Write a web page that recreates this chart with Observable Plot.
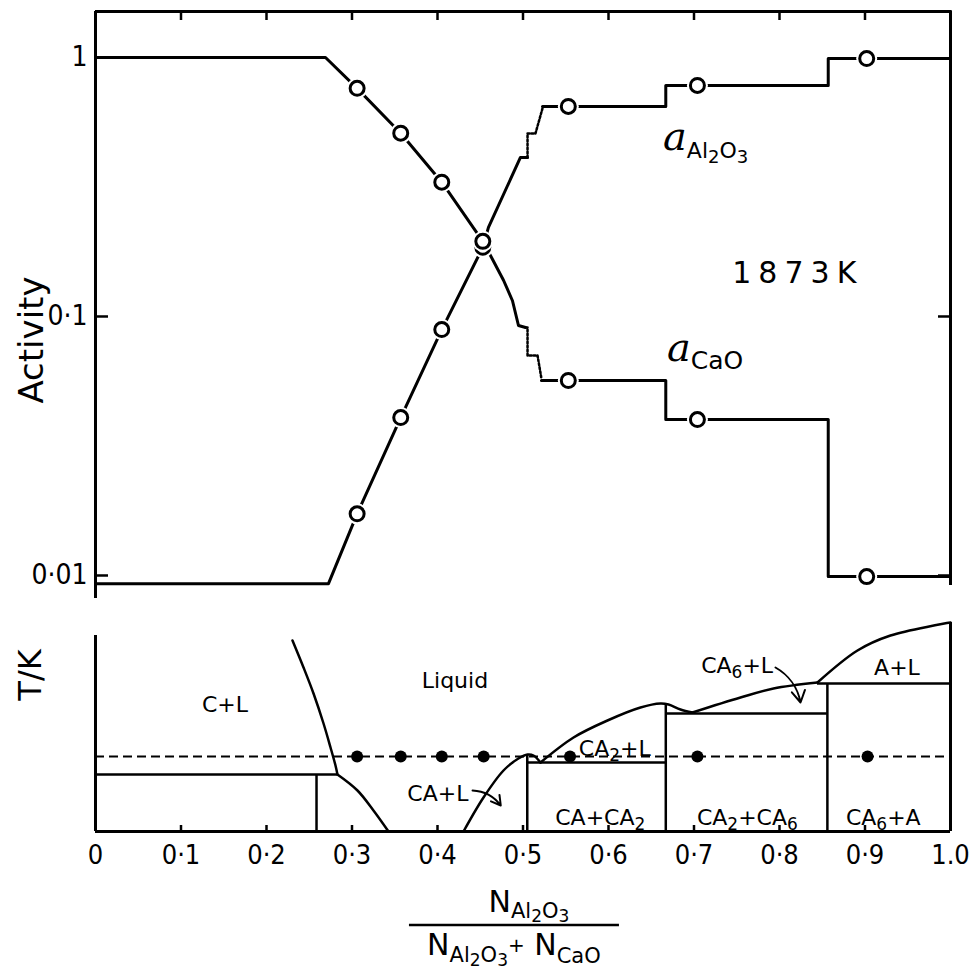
<!DOCTYPE html>
<html><head><meta charset="utf-8">
<script src="https://cdn.jsdelivr.net/npm/d3@7"></script>
<script src="https://cdn.jsdelivr.net/npm/@observablehq/plot@0.6"></script>
<style>
body{margin:0;background:#fff;}
#wrap{position:relative;width:973px;height:975px;background:#fff;}
#wrap svg{position:absolute;left:0;}
</style></head><body><div id="wrap"></div>
<script>
// ---------- DATA ----------
const xTicks = [0, 0.1, 0.2, 0.3, 0.4, 0.5, 0.6, 0.7, 0.8, 0.9, 1.0];
const xTickLabels = ["0", "0·1", "0·2", "0·3", "0·4", "0·5", "0·6", "0·7", "0·8", "0·9", "1.0"];
const innerXTicks = [0.1, 0.2, 0.3, 0.4, 0.5, 0.6, 0.7, 0.8, 0.9];
const yTicks = [0.01, 0.1, 1];
const yTickLabels = ["0·01", "0·1", "1"];

// a_CaO (solid parts, dotted transition)
const caoAx = [0, 0.269, 0.306, 0.357, 0.405, 0.453, 0.4632, 0.4772, 0.4877, 0.4947, 0.503];
const caoAy = [1, 1, 0.76, 0.51, 0.33, 0.195, 0.169, 0.138, 0.115, 0.0923, 0.0907];
const caoDx = [0.503, 0.5053, 0.5053, 0.517, 0.5216];
const caoDy = [0.0907, 0.0907, 0.0707, 0.0707, 0.0575];
const caoBx = [0.5216, 0.667, 0.667, 0.857, 0.857, 1.0];
const caoBy = [0.0566, 0.0566, 0.040, 0.040, 0.0099, 0.0099];
const caoPtX = [0.306, 0.357, 0.405, 0.453, 0.553, 0.704, 0.902];
const caoPtY = [0.76, 0.51, 0.33, 0.195, 0.0566, 0.040, 0.0099];

// a_Al2O3
const alAx = [0, 0.2725, 0.306, 0.357, 0.405, 0.453, 0.4596, 0.497, 0.5053];
const alAy = [0.0093, 0.0093, 0.0173, 0.0407, 0.089, 0.185, 0.221, 0.411, 0.411];
const alDx = [0.5053, 0.5053, 0.5146, 0.5228];
const alDy = [0.411, 0.509, 0.509, 0.636];
const alBx = [0.5228, 0.667, 0.667, 0.857, 0.857, 1.0];
const alBy = [0.647, 0.647, 0.780, 0.780, 0.99, 0.99];
const alPtX = [0.306, 0.357, 0.405, 0.453, 0.553, 0.704, 0.902];
const alPtY = [0.0173, 0.0407, 0.089, 0.185, 0.647, 0.780, 0.99];

// phase diagram (T in K, schematic)
const cLiqX = [0.2304, 0.2433, 0.2550, 0.2667, 0.2749, 0.2807, 0.2830];
const cLiqT = [2337, 2229, 2125, 2005, 1909, 1837, 1801];
const c3aLiqX = [0.2830, 0.3064, 0.3251, 0.3427];
const c3aLiqT = [1801, 1737, 1657, 1573];
const caLiqX = [0.4304, 0.4538, 0.4772, 0.4947, 0.5053, 0.5123, 0.5205];
const caLiqT = [1573, 1709, 1817, 1865, 1881, 1877, 1849];
const ca2LiqX = [0.5205, 0.5591, 0.5988, 0.6374, 0.6608, 0.6702, 0.6842, 0.6982];
const ca2LiqT = [1849, 1949, 2017, 2069, 2085, 2081, 2061, 2049];
const ca6LiqX = [0.6982, 0.7544, 0.7930, 0.8444];
const ca6LiqT = [2049, 2109, 2145, 2169];
const aLiqX = [0.8444, 0.8912, 0.9298, 1.0];
const aLiqT = [2169, 2297, 2357, 2409];

const hLineT = [1801, 1849, 2045, 2165];
const hLineX1 = [0, 0.505, 0.667, 0.8444];
const hLineX2 = [0.283, 0.667, 0.856, 1.0];
const vLineX = [0.2585, 0.505, 0.667, 0.856];
const vLineT2 = [1801, 1881, 2085, 2165];
const T0 = 1573;
const isoT = 1873;
const isoDotX = [0.306, 0.357, 0.405, 0.454, 0.555, 0.704, 0.903];

const phaseLabels = ["C+L", "Liquid", "CA+L", "CA+CA2", "CA2+CA6", "CA6+A", "CA2+L", "CA6+L", "A+L"];
const phaseLabelX = [0.152, 0.421, 0.401, 0.591, 0.763, 0.922, 0.608, 0.751, 0.938];
const phaseLabelT = [2081, 2177, 1725, 1629, 1629, 1629, 1905, 2237, 2229];

const arrowX1 = [0.441, 0.7953];
const arrowT1 = [1737, 2229];
const arrowX2 = [0.474, 0.8246];
const arrowT2 = [1677, 2089];

// ---------- helpers ----------
const rows = (xs, ys) => xs.map((x, i) => ({x, y: ys[i]}));
const FONT = "'DejaVu Sans', 'Noto Sans', sans-serif";
const NUMFONT = "'DejaVu Sans Condensed', 'Liberation Sans Narrow', 'DejaVu Sans', sans-serif";
const W = 973;
const wrap = document.getElementById("wrap");

function rich(g, x, y, anchor, parts, extra = {}) {
  const t = g.append("text").attr("x", x).attr("y", y).attr("text-anchor", anchor)
    .attr("fill", "black").attr("font-family", FONT);
  if (extra.transform) t.attr("transform", extra.transform);
  if (extra.ls) t.attr("letter-spacing", extra.ls);
  let prev = 0;
  parts.forEach(p => {
    const s = t.append("tspan").text(p.t).attr("font-size", p.size).attr("dy", (p.off || 0) - prev);
    if (p.family) s.attr("font-family", p.family);
    if (p.style) s.attr("font-style", p.style);
    prev = p.off || 0;
  });
  return t;
}

// ---------- TOP PLOT ----------
const yLo = 0.00815, yHi = 1.505, yRightLo = 0.00915;
const topPlot = Plot.plot({
  width: W, height: 600,
  marginLeft: 95, marginRight: 23, marginTop: 11, marginBottom: 2,
  x: {domain: [0, 1], axis: null},
  y: {type: "log", domain: [yLo, yHi], axis: null},
  style: {fontFamily: FONT, background: "white", color: "black"},
  marks: [
    Plot.ruleX([0], {y1: yLo, y2: yHi, strokeWidth: 3}),
    Plot.ruleX([1], {y1: yRightLo, y2: yHi, strokeWidth: 3}),
    Plot.ruleY([yHi], {x1: 0, x2: 1.002, strokeWidth: 3}),
    Plot.axisX({anchor: "top", ticks: innerXTicks, tickSize: 8, dy: 8, tickFormat: () => "", label: null, strokeWidth: 2.5}),
    Plot.axisY({anchor: "left", ticks: [0.01, 0.1], tickSize: 13, dx: 13, tickFormat: () => "", label: null, strokeWidth: 2.5}),
    Plot.axisY({anchor: "right", ticks: [0.01, 0.1], tickSize: 13, dx: -13, tickFormat: () => "", label: null, strokeWidth: 2.5}),
    Plot.axisY({anchor: "left", ticks: yTicks, tickSize: 0, tickPadding: 8,
      tickFormat: d => yTickLabels[yTicks.indexOf(d)], label: null, fontSize: 28, fontFamily: NUMFONT}),
    Plot.line(rows(caoAx, caoAy), {x: "x", y: "y", strokeWidth: 3, curve: "linear"}),
    Plot.line(rows(caoDx, caoDy), {x: "x", y: "y", strokeWidth: 2.5, strokeDasharray: "2,2"}),
    Plot.line(rows(caoBx, caoBy), {x: "x", y: "y", strokeWidth: 3}),
    Plot.line(rows(alAx, alAy), {x: "x", y: "y", strokeWidth: 3}),
    Plot.line(rows(alDx, alDy), {x: "x", y: "y", strokeWidth: 2.5, strokeDasharray: "2,2"}),
    Plot.line(rows(alBx, alBy), {x: "x", y: "y", strokeWidth: 3}),
    Plot.dot(rows(alPtX, alPtY), {x: "x", y: "y", r: 10.5, fill: "white", stroke: null}),
    Plot.dot(rows(alPtX, alPtY), {x: "x", y: "y", r: 7, fill: "white", stroke: "black", strokeWidth: 3}),
    Plot.dot(rows(caoPtX, caoPtY), {x: "x", y: "y", r: 10.5, fill: "white", stroke: null}),
    Plot.dot(rows(caoPtX, caoPtY), {x: "x", y: "y", r: 7, fill: "white", stroke: "black", strokeWidth: 3})
  ]
});
topPlot.style.top = "0px";
wrap.appendChild(topPlot);

{
  const sx = topPlot.scale("x"), sy = topPlot.scale("y");
  const g = d3.select(topPlot).append("g");
  const SER = "'DejaVu Serif', 'Liberation Serif', serif";
  rich(g, sx.apply(0.6643), sy.apply(0.4375), "start", [
    {t: "a", size: 40, style: "italic", family: SER, off: 0},
    {t: "Al", size: 22, off: 8}, {t: "2", size: 18, off: 13}, {t: "O", size: 22, off: 8}, {t: "3", size: 18, off: 13}
  ]);
  rich(g, sx.apply(0.669), sy.apply(0.067), "start", [
    {t: "a", size: 40, style: "italic", family: SER, off: 0},
    {t: "CaO", size: 25, off: 8}
  ]);
  rich(g, sx.apply(0.822), sy.apply(0.134), "middle", [{t: "1873K", size: 30, off: 0}], {ls: "7px"});
  rich(g, 0, 0, "middle", [{t: "Activity", size: 34, off: 0}], {transform: "translate(43,340) rotate(-90)"});
}

// ---------- BOTTOM PLOT ----------
const tHi = 2357;
const hRows = hLineT.map((t, i) => ({t, x1: hLineX1[i], x2: hLineX2[i]}));
const vRows = vLineX.map((x, i) => ({x, t2: vLineT2[i]}));
const arrRows = arrowX1.map((x, i) => ({x1: x, y1: arrowT1[i], x2: arrowX2[i], y2: arrowT2[i]}));
const liq = [[cLiqX, cLiqT], [c3aLiqX, c3aLiqT], [caLiqX, caLiqT], [ca2LiqX, ca2LiqT], [ca6LiqX, ca6LiqT], [aLiqX, aLiqT]];

const botPlot = Plot.plot({
  width: W, height: 375,
  marginLeft: 95, marginRight: 23, marginTop: 35, marginBottom: 144,
  x: {domain: [0, 1], axis: null},
  y: {domain: [T0, tHi], axis: null},
  style: {fontFamily: FONT, background: "white", color: "black", overflow: "visible"},
  marks: [
    Plot.ruleX([0], {y1: T0, y2: tHi, strokeWidth: 3}),
    Plot.ruleX([1], {y1: T0, y2: aLiqT[aLiqT.length - 1], strokeWidth: 3}),
    Plot.ruleY([T0], {x1: 0, x2: 1, strokeWidth: 3}),
    Plot.axisX({anchor: "bottom", ticks: innerXTicks, tickSize: 6, dy: -6, tickFormat: () => "", label: null, strokeWidth: 2.5}),
    Plot.axisX({anchor: "bottom", ticks: xTicks, tickSize: 0, tickPadding: 13,
      tickFormat: d => xTickLabels[xTicks.indexOf(d)], label: null, fontSize: 27, fontFamily: NUMFONT}),
    Plot.ruleY(hRows, {y: "t", x1: "x1", x2: "x2", strokeWidth: 2.5}),
    Plot.ruleX(vRows, {x: "x", y1: T0, y2: "t2", strokeWidth: 2.5}),
    ...liq.map(([xs, ts]) => Plot.line(rows(xs, ts), {x: "x", y: "y", strokeWidth: 2.5, curve: "catmull-rom"})),
    Plot.ruleY([isoT], {x1: 0, x2: 1, strokeWidth: 2, strokeDasharray: "9,5"}),
    Plot.dot(isoDotX, {x: d => d, y: isoT, r: 6, fill: "black", stroke: null}),
    Plot.arrow(arrRows, {x1: "x1", y1: "y1", x2: "x2", y2: "y2", bend: 25, strokeWidth: 2, headLength: 10})
  ]
});
botPlot.style.top = "600px";
wrap.appendChild(botPlot);

{
  const sx = botPlot.scale("x"), sy = botPlot.scale("y");
  const g = d3.select(botPlot).append("g");
  const size = 22;
  phaseLabels.forEach((lab, i) => {
    const parts = lab.match(/\d+|\D+/g).map(p => /\d/.test(p) ? {t: p, size: 17, off: 5} : {t: p, size, off: 0});
    rich(g, sx.apply(phaseLabelX[i]), sy.apply(phaseLabelT[i]) + size * 0.36, "middle", parts);
  });
  rich(g, 0, 0, "middle", [{t: "T/K", size: 32, off: 0}], {transform: "translate(41,75) rotate(-90)"});
  // x-axis label as fraction
  const xc = sx.apply(0.49);
  rich(g, xc + 15, 312, "middle", [
    {t: "N", size: 30, off: 0}, {t: "Al", size: 21, off: 6}, {t: "2", size: 17, off: 10},
    {t: "O", size: 21, off: 6}, {t: "3", size: 17, off: 10}
  ]);
  g.append("line").attr("x1", xc - 105).attr("x2", xc + 105).attr("y1", 325).attr("y2", 325)
    .attr("stroke", "black").attr("stroke-width", 2.5);
  rich(g, xc, 355, "middle", [
    {t: "N", size: 30, off: 0}, {t: "Al", size: 21, off: 7}, {t: "2", size: 17, off: 11},
    {t: "O", size: 21, off: 7}, {t: "3", size: 17, off: 11}, {t: "+", size: 20, off: -3},
    {t: " N", size: 30, off: 0}, {t: "CaO", size: 21, off: 8}
  ]);
}
</script></body></html>
